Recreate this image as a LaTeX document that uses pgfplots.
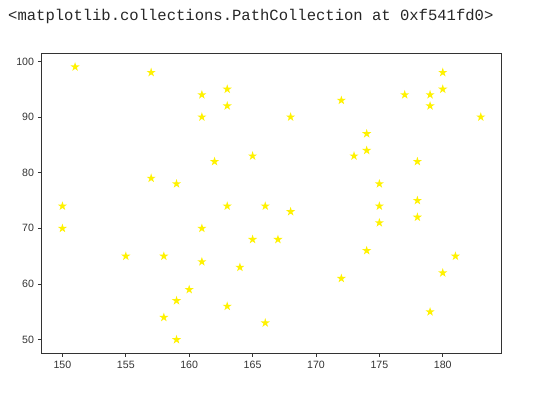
\documentclass[border=0pt]{standalone}
\usepackage{fontspec}
\setmainfont{Liberation Sans}
\newfontfamily\monofont{Liberation Mono}
\usepackage{pgfplots}
\pgfplotsset{compat=1.18}
\pgfdeclareplotmark{fstar}{%
  \pgfpathmoveto{\pgfpointpolar{90}{\pgfplotmarksize}}%
  \pgfpathlineto{\pgfpointpolar{126}{0.382\pgfplotmarksize}}%
  \pgfpathlineto{\pgfpointpolar{162}{\pgfplotmarksize}}%
  \pgfpathlineto{\pgfpointpolar{198}{0.382\pgfplotmarksize}}%
  \pgfpathlineto{\pgfpointpolar{234}{\pgfplotmarksize}}%
  \pgfpathlineto{\pgfpointpolar{270}{0.382\pgfplotmarksize}}%
  \pgfpathlineto{\pgfpointpolar{306}{\pgfplotmarksize}}%
  \pgfpathlineto{\pgfpointpolar{342}{0.382\pgfplotmarksize}}%
  \pgfpathlineto{\pgfpointpolar{18}{\pgfplotmarksize}}%
  \pgfpathlineto{\pgfpointpolar{54}{0.382\pgfplotmarksize}}%
  \pgfpathclose
  \pgfusepathqfill
}
\definecolor{spine}{gray}{0.2}
\begin{document}
\begin{tikzpicture}[x=1pt,y=1pt]
\useasboundingbox (0,0) rectangle (551,-396);
\node[anchor=base west, inner sep=0pt, font=\monofont\fontsize{15.55}{18}\selectfont, text=black!85] at (8,-21) {<matplotlib.collections.PathCollection at 0xf541fd0>};
\begin{axis}[
  scale only axis,
  width=460.2pt, height=300pt,
  at={(41.5pt,-353.3pt)}, anchor=south west,
  xmin=148.35, xmax=184.65, ymin=47.55, ymax=101.45,
  xtick={150,155,...,180}, ytick={50,60,...,100},
  tick align=outside, tick pos=left,
  major tick length=3.5pt,
  axis line style={spine, line width=0.9pt},
  every tick/.style={spine, line width=0.8pt},
  tick label style={font=\fontsize{10.6}{12}\selectfont, text=black!80},
  /pgf/number format/assume math mode=true,
  xticklabel style={yshift=-1pt},
  yticklabel style={xshift=-0.5pt},
]
\addplot[only marks, mark=fstar, mark size=4.8pt, color=yellow] coordinates {
(151,99) (157,98) (161,94) (163,95) (163,92) (161,90) (162,82) (165,83)
(157,79) (159,78) (150,74) (163,74) (166,74) (150,70) (155,65) (158,65)
(161,70) (161,64) (164,63) (165,68) (167,68) (160,59) (159,57) (158,54)
(163,56) (159,50) (166,53) (180,98) (180,95) (177,94) (179,94) (179,92)
(172,93) (168,90) (183,90) (174,87) (174,84) (173,83) (178,82) (175,78)
(175,74) (178,75) (178,72) (168,73) (175,71) (174,66) (172,61) (181,65)
(180,62) (179,55)
};
\end{axis}
\end{tikzpicture}
\end{document}
